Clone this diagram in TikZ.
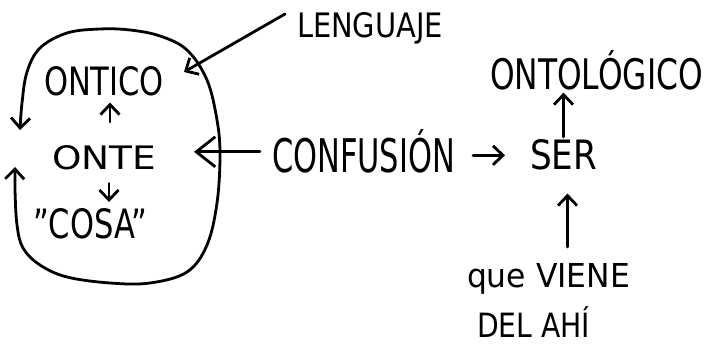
\documentclass[tikz,border=0pt]{standalone}
\usepackage{fontspec}
\setmainfont{DejaVu Sans}
\usetikzlibrary{arrows.meta}
\newcommand{\hwtext}[3]{\resizebox{#1pt}{#2pt}{#3}}
\begin{document}
\begin{tikzpicture}[x=1pt,y=-1pt,
  lbl/.style={anchor=base west,inner sep=0pt,outer sep=0pt},
  tipS/.style={-{Straight Barb[length=10pt,width=19pt,line width=2.8pt]}},
  arr/.style={line width=2.8pt,line cap=round,line join=round,tipS},
  bigarr/.style={line width=2.8pt,line cap=round,line join=round,
    -{Straight Barb[length=19pt,width=30pt,line width=2.8pt]}},
  dbl/.style={line width=2.8pt,line cap=round,line join=round,
    {Straight Barb[length=10pt,width=19pt,line width=2.8pt]}-{Straight Barb[length=10pt,width=19pt,line width=2.8pt]}}]
\useasboundingbox (0,0) rectangle (706,347);
\fill[white] (0,0) rectangle (706,347);

\node[lbl] (lenguaje) at (297,38) {\hwtext{146}{25}{LENGUAJE}};
\node[lbl] (ontico) at (44,96) {\hwtext{120}{29}{ONTICO}};
\node[lbl] (onte) at (52,170) {\hwtext{104}{24}{ONTE}};
\node[lbl] (cosa) at (33,239) {\hwtext{114}{30}{\char"22 COSA\char"22}};
\node[lbl] (confusion) at (272,173) {\hwtext{183}{43}{CONFUSIÓN}};
\node[lbl] (ser) at (530,170) {\hwtext{67}{30}{SER}};
\node[lbl] (ontologico) at (490,90) {\hwtext{213}{39}{ONTOLÓGICO}};
\node[lbl] (queviene) at (467,287) {\hwtext{163}{24}{que VIENE}};
\node[lbl] (delahi) at (477,337) {\hwtext{113}{31}{DEL AHÍ}};

% loop around ONTICO / ONTE / COSA
\coordinate (loopA) at (15,167);
\coordinate (loopB) at (20,130);
\draw[dbl] plot[smooth,tension=0.6] coordinates {(loopA) (15,190) (17,225) (23,248) (40,265) (67,277) (110,283) (150,283) (187,272) (207,245) (217,203) (220,155) (217,120) (207,80) (187,50) (160,36) (130,30) (100,29) (67,33) (40,48) (27,72) (22,103) (loopB)};

% LENGUAJE -> ONTICO
\coordinate (lgstart) at (285,14);
\coordinate (lgtip) at (184,72);
\draw[arr] (lgstart) -- (lgtip);

% ONTE -> ONTICO
\draw[arr,shorten <=24pt,shorten >=6pt] ([xshift=6pt]onte.north) -- ([xshift=6pt]onte.north |- ontico.south);
% ONTE -> COSA
\draw[arr,shorten <=13pt,shorten >=7pt] ([xshift=5pt]onte.south) -- ([xshift=5pt]onte.south |- cosa.north);

% CONFUSION -> ONTE
\draw[bigarr,shorten <=12pt,shorten >=38pt] (confusion.west) -- (onte.east |- confusion.west);
% CONFUSION -> SER
\draw[arr,shorten <=18pt,shorten >=25pt] (confusion.east |- ser.west) -- (ser.west);
% SER -> ONTOLOGICO
\draw[arr,shorten <=3pt,shorten >=2pt] (ser.north) -- (ser.north |- ontologico.south);
% QUE VIENE -> SER
\draw[arr,shorten <=16pt,shorten >=23pt] ([xshift=4pt]ser.south |- queviene.north) -- ([xshift=4pt]ser.south);
\end{tikzpicture}
\end{document}
